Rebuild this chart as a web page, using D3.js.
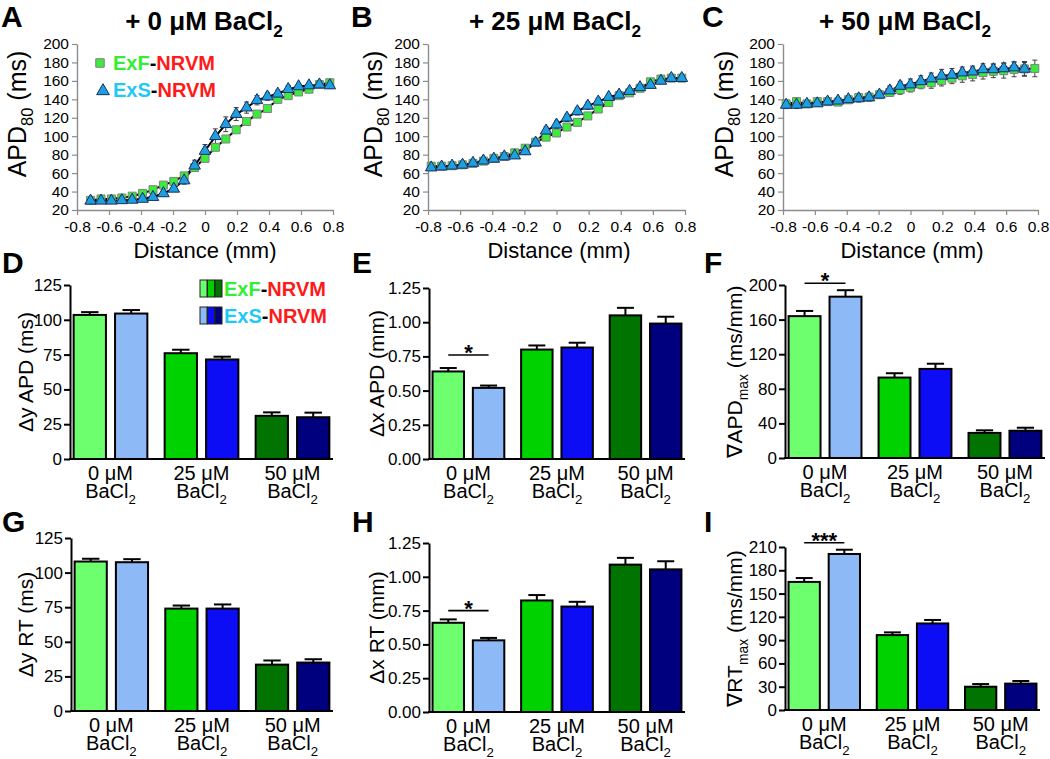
<!DOCTYPE html>
<html>
<head>
<meta charset="utf-8">
<script src="https://cdn.jsdelivr.net/npm/d3@7"></script>
<style>
  body { margin: 0; background: #fff; }
  svg { font-family: "Liberation Sans", Arial, sans-serif; }
</style>
</head>
<body>
<svg id="fig" width="1050" height="759"></svg>
<script>
// ---- data: APD80 profiles along the distance axis (mm) ----
var distance = [-0.78, -0.715, -0.65, -0.585, -0.52, -0.455, -0.39, -0.325, -0.26, -0.195, -0.13, -0.065,
                0, 0.065, 0.13, 0.195, 0.26, 0.325, 0.39, 0.455, 0.52, 0.585, 0.65, 0.715, 0.78];
var distTicks = [-0.8, -0.6, -0.4, -0.2, 0, 0.2, 0.4, 0.6, 0.8];
var apdTicks = [20, 40, 60, 80, 100, 120, 140, 160, 180, 200];

// + 0 uM BaCl2
var apd0ExF    = [null, 30.5, 32, 32, 33, 35, 38, 42, 47, 51, 57, 66, 76, 88, 97, 107, 116, 124, 130, 140, 144, 148, 151, 156, 158];
var apd0ExFErr = [null, 2, 2, 2, 2, 2, 2, 2, 2, 2, 2, 3, 3, 3, 3, 3, 3, 3, 3, 3, 3, 3, 3, 3, 3];
var apd0ExS    = [null, 30, 30, 30, 30.5, 31, 32, 34, 38, 43, 52, 68, 84, 100, 113, 124, 131, 139, 143, 146, 151, 154, 155, 156, 155];
var apd0ExSErr = [null, 2, 2, 2, 2, 2, 2, 2, 3, 3, 4, 6, 7, 8, 8, 7, 6, 5, 4, 4, 4, 3, 3, 3, 3];
// + 25 uM BaCl2
var apd25ExF    = [67.5, 67.5, 68, 69, 70.5, 73, 76, 78, 82, 87, 93.5, 99, 103.5, 110, 115, 122, 129.5, 136.5, 144, 147, 152, 159, 162, 163, 163];
var apd25ExFErr = [2, 2, 2, 2, 2, 2, 2, 2, 2, 2, 2, 2, 3, 3, 3, 3, 3, 3, 3, 3, 3, 3, 3, 2, 2];
var apd25ExS    = [66, 67, 68, 69, 71, 73.5, 75.5, 78, 79, 83.5, 93, 106, 112.5, 120, 127, 133, 137.5, 142.5, 145, 149, 153, 155.5, 160, 163, 163];
var apd25ExSErr = [2, 2, 2, 2, 2, 2, 2, 2, 3, 3, 3, 4, 4, 4, 4, 4, 4, 3, 3, 3, 3, 3, 3, 2, 2];
// + 50 uM BaCl2
var apd50ExF    = [135, 137.5, 135, 137.5, 137.5, 137, 139.5, 142, 142.5, 145, 147.5, 150.5, 153, 156.5, 158, 160.5, 163, 165.5, 167, 169, 170.5, 171, 172.5, 173, 173.5];
var apd50ExFErr = [4, 4, 3, 3, 3, 3, 3, 4, 4, 4, 4, 5, 5, 5, 6, 6, 6, 7, 7, 7, 7, 8, 8, 8, 9];
var apd50ExS    = [134, 134, 135, 135.5, 137.5, 138.5, 140, 141, 142, 145, 149.5, 154.5, 156, 159.5, 162.5, 165.5, 166.5, 169, 170, 172.5, 172.5, 173.5, 174.5, 173, null];
var apd50ExSErr = [4, 4, 3, 3, 3, 3, 4, 4, 4, 4, 5, 5, 6, 6, 6, 7, 7, 6, 6, 6, 6, 6, 6, 7, null];

// ---- data: summary bars (mean, SEM) per BaCl2 concentration ----
var concentrations = ["0 μM", "25 μM", "50 μM"];
var groups = ["ExF", "ExS"];

var dyApdExF = [103.5, 76, 31],     dyApdExFSem = [2, 2.5, 2.5];
var dyApdExS = [104.5, 71.5, 30],   dyApdExSSem = [2.5, 2, 3.3];
var dxApdExF = [0.64, 0.80, 1.05],  dxApdExFSem = [0.025, 0.03, 0.055];
var dxApdExS = [0.52, 0.815, 0.99], dxApdExSSem = [0.017, 0.035, 0.05];
var gradApdExF = [164, 93, 29],     gradApdExFSem = [6, 5, 3];
var gradApdExS = [186.5, 103, 31.5],gradApdExSSem = [7.5, 6, 3.5];
var dyRtExF = [108, 74, 33.5],      dyRtExFSem = [2, 2.2, 3];
var dyRtExS = [107.5, 74, 35],      dyRtExSSem = [2.2, 3, 2.4];
var dxRtExF = [0.66, 0.825, 1.09],  dxRtExFSem = [0.025, 0.04, 0.05];
var dxRtExS = [0.53, 0.78, 1.055],  dxRtExSSem = [0.018, 0.035, 0.06];
var gradRtExF = [165, 96.5, 30],    gradRtExFSem = [5, 3.5, 3.4];
var gradRtExS = [201, 111.5, 34],   gradRtExSSem = [5.5, 4.5, 3.4];

// significance brackets (panel, bracket height in data units, label) - all between the 0 uM bars
var sigBrackets = [["E", 0.76, "*"], ["F", 202, "*"], ["H", 0.75, "*"], ["I", 215.5, "***"]];

// ---- colours ----
var barColors = {
  ExF: ["#6dff6d", "#00d200", "#007300"],
  ExS: ["#8dbaf6", "#0c0cf5", "#00007f"]
};
var textGreen = "#33ee33", textCyan = "#1ec8f8", textRed = "#ff1a1a";
var FONT = '"Liberation Sans", Arial, sans-serif';

var svg = d3.select("#fig");

// text with optional subscript parts: [[string, isSub], ...]
function richText(sel, parts, size) {
  var wasSub = false;
  parts.forEach(function (p) {
    var t = sel.append("tspan").text(p[0]);
    if (p[1]) {
      t.attr("font-size", size * 0.66);
      if (!wasSub) t.attr("dy", size * 0.28);
    } else if (wasSub) {
      t.attr("dy", -size * 0.28);
    }
    wasSub = !!p[1];
  });
  return sel;
}

function panelLetter(ch, x, y) {
  svg.append("text").attr("x", x).attr("y", y)
     .attr("font-size", 30).attr("font-weight", "bold").text(ch);
}

// ---------------- line panels ----------------
function drawLinePanel(p) {
  var x = d3.scaleLinear().domain([-0.8, 0.8]).range([p.left, p.right]);
  var y = d3.scaleLinear().domain([20, 200]).range([p.bottom, p.top]);
  var g = svg.append("g");

  var ya = g.append("g").attr("transform", "translate(" + p.left + ",0)")
            .call(d3.axisLeft(y).tickValues(apdTicks).tickSize(5).tickSizeOuter(0).tickPadding(3));
  var xa = g.append("g").attr("transform", "translate(0," + p.bottom + ")")
            .call(d3.axisBottom(x).tickValues(distTicks).tickSize(5).tickSizeOuter(0).tickPadding(6)
                    .tickFormat(function (d) { return d === 0 ? "0" : d.toFixed(1); }));
  [ya, xa].forEach(function (a) {
    a.attr("font-family", FONT).attr("font-size", 15.5);
    a.select(".domain").attr("stroke", "#8c8c8c").attr("stroke-width", 1.4);
    a.selectAll(".tick line").attr("stroke", "#8c8c8c").attr("stroke-width", 1.2);
    a.selectAll(".tick text").attr("fill", "#000");
  });

  var series = p.series.map(function (s) {
    return {
      kind: s.kind,
      pts: distance.map(function (d, i) { return { x: d, v: s.values[i], e: s.errs[i] }; })
                   .filter(function (d) { return d.v != null; })
    };
  });

  // error bars
  series.forEach(function (s) {
    var eb = g.append("g").attr("stroke", "#404040").attr("stroke-width", 1);
    s.pts.forEach(function (d) {
      var cx = x(d.x);
      eb.append("line").attr("x1", cx).attr("x2", cx).attr("y1", y(d.v - d.e)).attr("y2", y(d.v + d.e));
      eb.append("line").attr("x1", cx - 2.5).attr("x2", cx + 2.5).attr("y1", y(d.v + d.e)).attr("y2", y(d.v + d.e));
      eb.append("line").attr("x1", cx - 2.5).attr("x2", cx + 2.5).attr("y1", y(d.v - d.e)).attr("y2", y(d.v - d.e));
    });
  });

  // fitted curves
  var line = d3.line().x(function (d) { return x(d.x); }).y(function (d) { return y(d.v); })
               .curve(d3.curveBasis);
  series.forEach(function (s) {
    g.append("path").datum(s.pts).attr("d", line)
     .attr("fill", "none").attr("stroke", "#000").attr("stroke-width", 2);
  });

  // markers
  series.forEach(function (s) {
    var sel = g.append("g").selectAll("path").data(s.pts).enter().append("path")
      .attr("transform", function (d) { return "translate(" + x(d.x) + "," + y(d.v) + ")"; });
    if (s.kind === "square") {
      sel.attr("d", d3.symbol(d3.symbolSquare, 64)).attr("fill", "#3deb3d")
         .attr("stroke", "#808080").attr("stroke-width", 1);
    } else {
      sel.attr("d", d3.symbol(d3.symbolTriangle, 58)).attr("fill", "#1e9fe0")
         .attr("stroke", "#17305c").attr("stroke-width", 1);
    }
  });

  // title
  richText(svg.append("text").attr("x", p.titleX).attr("y", 30).attr("text-anchor", "middle")
              .attr("font-size", 26).attr("font-weight", "bold"),
           [["+ " + p.conc + " BaCl"], ["2", true]], 26);
  // axis labels
  richText(svg.append("text").attr("transform", "translate(" + p.yLabelX + ",114) rotate(-90)")
              .attr("text-anchor", "middle").attr("font-size", 25),
           [["APD"], ["80", true], [" (ms)"]], 25);
  svg.append("text").attr("x", p.xLabelX).attr("y", 258).attr("text-anchor", "middle")
     .attr("font-size", 22).text("Distance (mm)");
  panelLetter(p.letter, p.letterX, 27);
}

drawLinePanel({ letter: "A", letterX: 1, conc: "0 μM", left: 77, right: 333, top: 44, bottom: 210,
                titleX: 204, xLabelX: 205, yLabelX: 26,
                series: [{ kind: "square", values: apd0ExF, errs: apd0ExFErr },
                         { kind: "triangle", values: apd0ExS, errs: apd0ExSErr }] });
drawLinePanel({ letter: "B", letterX: 351, conc: "25 μM", left: 428, right: 685, top: 44, bottom: 210,
                titleX: 555, xLabelX: 559, yLabelX: 382,
                series: [{ kind: "square", values: apd25ExF, errs: apd25ExFErr },
                         { kind: "triangle", values: apd25ExS, errs: apd25ExSErr }] });
drawLinePanel({ letter: "C", letterX: 702, conc: "50 μM", left: 783, right: 1038, top: 44, bottom: 210,
                titleX: 905, xLabelX: 912, yLabelX: 733,
                series: [{ kind: "square", values: apd50ExF, errs: apd50ExFErr },
                         { kind: "triangle", values: apd50ExS, errs: apd50ExSErr }] });

// legend in A
(function () {
  var lg = svg.append("g").attr("font-size", 20).attr("font-weight", "bold");
  lg.append("path").attr("transform", "translate(100,63)").attr("d", d3.symbol(d3.symbolSquare, 72))
    .attr("fill", "#3deb3d").attr("stroke", "#808080");
  lg.append("path").attr("transform", "translate(103,91)").attr("d", d3.symbol(d3.symbolTriangle, 70))
    .attr("fill", "#1e9fe0").attr("stroke", "#17305c");
  var t1 = lg.append("text").attr("x", 113).attr("y", 70);
  t1.append("tspan").attr("fill", textGreen).text("ExF");
  t1.append("tspan").attr("fill", "#000").text("-");
  t1.append("tspan").attr("fill", textRed).text("NRVM");
  var t2 = lg.append("text").attr("x", 113).attr("y", 97);
  t2.append("tspan").attr("fill", textCyan).text("ExS");
  t2.append("tspan").attr("fill", "#000").text("-");
  t2.append("tspan").attr("fill", textRed).text("NRVM");
})();

// ---------------- bar panels ----------------
function drawBarPanel(p) {
  var x0 = d3.scaleBand().domain(concentrations).range([p.left, p.right]).paddingInner(0.19).paddingOuter(0.04);
  var x1 = d3.scaleBand().domain(groups).range([0, x0.bandwidth()]).paddingInner(0.22);
  var y = d3.scaleLinear().domain([0, p.max]).range([p.bottom, p.top]);
  var g = svg.append("g");

  var rows = [];
  concentrations.forEach(function (c, ci) {
    groups.forEach(function (gr, gi) {
      rows.push({ c: c, ci: ci, g: gr, v: p.means[gi][ci], e: p.sems[gi][ci] });
    });
  });
  var bw = x1.bandwidth();

  // error bars (upper only)
  var eb = g.append("g").attr("stroke", "#000").attr("stroke-width", 2);
  rows.forEach(function (d) {
    var cx = x0(d.c) + x1(d.g) + bw / 2;
    eb.append("line").attr("x1", cx).attr("x2", cx).attr("y1", y(d.v)).attr("y2", y(d.v + d.e));
    eb.append("line").attr("x1", cx - bw * 0.27).attr("x2", cx + bw * 0.27)
      .attr("y1", y(d.v + d.e)).attr("y2", y(d.v + d.e));
  });

  g.append("g").selectAll("rect").data(rows).enter().append("rect")
    .attr("x", function (d) { return x0(d.c) + x1(d.g); })
    .attr("width", bw)
    .attr("y", function (d) { return y(d.v); })
    .attr("height", function (d) { return y(0) - y(d.v); })
    .attr("fill", function (d) { return barColors[d.g][d.ci]; })
    .attr("stroke", "#000").attr("stroke-width", 2);

  var ya = g.append("g").attr("transform", "translate(" + p.left + ",0)")
            .call(d3.axisLeft(y).tickValues(p.ticks).tickFormat(p.fmt).tickSize(6).tickSizeOuter(0).tickPadding(2));
  ya.attr("font-family", FONT).attr("font-size", 17);
  ya.select(".domain").attr("stroke", "#000").attr("stroke-width", 2);
  ya.selectAll(".tick line").attr("stroke", "#000").attr("stroke-width", 2);
  ya.selectAll(".tick text").attr("fill", "#000");

  g.append("line").attr("x1", p.left - 1).attr("x2", p.right).attr("y1", y(0)).attr("y2", y(0))
   .attr("stroke", "#000").attr("stroke-width", 2);

  // category labels: one text element, two lines
  concentrations.forEach(function (c) {
    var cx = x0(c) + x0.bandwidth() / 2;
    var t = svg.append("text").attr("y", p.bottom + 21).attr("text-anchor", "middle").attr("font-size", 20);
    t.append("tspan").attr("x", cx).text(c);
    t.append("tspan").attr("x", cx).attr("dy", 18).text("BaCl");
    t.append("tspan").attr("font-size", 13.2).attr("dy", 5.6).text("2");
  });

  // significance bracket
  sigBrackets.filter(function (s) { return s[0] === p.letter; }).forEach(function (s) {
    var xa = x0(concentrations[0]) + x1("ExF") + bw / 2;
    var xb = x0(concentrations[0]) + x1("ExS") + bw / 2;
    g.append("line").attr("x1", xa).attr("x2", xb).attr("y1", y(s[1])).attr("y2", y(s[1]))
     .attr("stroke", "#000").attr("stroke-width", 1.6);
    g.append("text").attr("x", (xa + xb) / 2).attr("y", y(s[1]) + 5).attr("text-anchor", "middle")
     .attr("font-size", 22).attr("font-weight", "bold").text(s[2]);
  });

  richText(svg.append("text")
              .attr("transform", "translate(" + p.yLabelX + "," + ((p.top + p.bottom) / 2) + ") rotate(-90)")
              .attr("text-anchor", "middle").attr("font-size", 21),
           p.label, 21);
  panelLetter(p.letter, p.letterX, p.letterY);
}

var fmtInt = d3.format("d"), fmt2 = d3.format(".2f");
drawBarPanel({ letter: "D", letterX: 2, letterY: 273, left: 70, right: 333, top: 285, bottom: 459,
               max: 125, ticks: [0, 25, 50, 75, 100, 125], fmt: fmtInt, yLabelX: 33,
               label: [["Δy APD (ms)"]],
               means: [dyApdExF, dyApdExS], sems: [dyApdExFSem, dyApdExSSem] });
drawBarPanel({ letter: "E", letterX: 352, letterY: 273, left: 429, right: 685, top: 288, bottom: 459,
               max: 1.25, ticks: [0, 0.25, 0.5, 0.75, 1, 1.25], fmt: fmt2, yLabelX: 384,
               label: [["Δx APD (mm)"]],
               means: [dxApdExF, dxApdExS], sems: [dxApdExFSem, dxApdExSSem] });
drawBarPanel({ letter: "F", letterX: 704, letterY: 273, left: 785, right: 1045, top: 285, bottom: 458,
               max: 200, ticks: [0, 40, 80, 120, 160, 200], fmt: fmtInt, yLabelX: 742,
               label: [["∇APD"], ["max", true], [" (ms/mm)"]],
               means: [gradApdExF, gradApdExS], sems: [gradApdExFSem, gradApdExSSem] });
drawBarPanel({ letter: "G", letterX: 2, letterY: 532, left: 71, right: 333, top: 538, bottom: 711,
               max: 125, ticks: [0, 25, 50, 75, 100, 125], fmt: fmtInt, yLabelX: 33,
               label: [["Δy RT (ms)"]],
               means: [dyRtExF, dyRtExS], sems: [dyRtExFSem, dyRtExSSem] });
drawBarPanel({ letter: "H", letterX: 352, letterY: 532, left: 429, right: 685, top: 543, bottom: 712,
               max: 1.25, ticks: [0, 0.25, 0.5, 0.75, 1, 1.25], fmt: fmt2, yLabelX: 384,
               label: [["Δx RT (mm)"]],
               means: [dxRtExF, dxRtExS], sems: [dxRtExFSem, dxRtExSSem] });
drawBarPanel({ letter: "I", letterX: 704, letterY: 532, left: 785, right: 1040, top: 547, bottom: 710,
               max: 210, ticks: [0, 30, 60, 90, 120, 150, 180, 210], fmt: fmtInt, yLabelX: 742,
               label: [["∇RT"], ["max", true], [" (ms/mm)"]],
               means: [gradRtExF, gradRtExS], sems: [gradRtExFSem, gradRtExSSem] });

// legend in D
(function () {
  var lg = svg.append("g");
  groups.forEach(function (gr, gi) {
    var y0 = 280 + gi * 27;
    barColors[gr].forEach(function (col, ci) {
      lg.append("rect").attr("x", 200 + ci * 7.5).attr("y", y0).attr("width", 7).attr("height", 17)
        .attr("fill", col).attr("stroke", "#222").attr("stroke-width", 1);
    });
    var t = lg.append("text").attr("x", 224).attr("y", y0 + 16).attr("font-size", 20).attr("font-weight", "bold");
    t.append("tspan").attr("fill", gi === 0 ? textGreen : textCyan).text(gr);
    t.append("tspan").attr("fill", "#000").text("-");
    t.append("tspan").attr("fill", textRed).text("NRVM");
  });
})();
</script>
</body>
</html>
